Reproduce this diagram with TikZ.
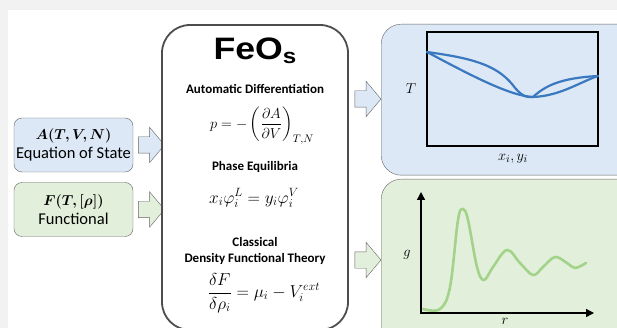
\documentclass[tikz,border=0pt]{standalone}
\usepackage{fontspec}
\usepackage{amsmath,bm}
\setmainfont{Carlito}
\newfontfamily\logofont{Liberation Sans}
\usetikzlibrary{arrows.meta, positioning, shapes.arrows}
\definecolor{bgframe}{HTML}{F2F2F2}
\definecolor{bluefill}{HTML}{DCE8F6}
\definecolor{greenfill}{HTML}{E2EFDA}
\definecolor{boxstroke}{HTML}{666666}
\definecolor{mainstroke}{HTML}{4D4D4D}
\definecolor{curveblue}{HTML}{3A78C0}
\definecolor{curvegreen}{HTML}{A3D38A}
\tikzset{
    inbox/.style={rectangle, rounded corners=8pt, draw=boxstroke, minimum width=119pt,
    minimum height=54pt, align=center, font=\fontsize{16.5}{19}\selectfont, inner sep=0pt},
    blockarr/.style={single arrow, draw=boxstroke, minimum height=26pt, minimum width=35pt,
    single arrow head extend=9.5pt, single arrow tip angle=100, inner xsep=0pt, inner ysep=8pt},
    hdr/.style={font=\fontsize{13}{16}\selectfont\bfseries, align=center, inner sep=1pt},
    eqn/.style={font=\fontsize{16.5}{18}\selectfont, inner sep=0.5pt},
    plotbox/.style={rectangle, rounded corners=20pt, draw=boxstroke, minimum width=260pt},
    axisline/.style={line width=1.4pt, -{Triangle[length=8pt,width=8pt]}},
}

\begin{document}
\begin{tikzpicture}[x=1pt, y=-1pt]

% frame
        \fill[bgframe] (0,0) rectangle (617,328);
        \fill[white] (8,10) rectangle (617,328);
        \useasboundingbox (0,0) rectangle (617,328);
        \clip (0,0) rectangle (617,328);

% =========================================================
% LEFT — inputs
% =========================================================

        \node[inbox, fill=bluefill]  (eos) at (73.5,145)
            {{\fontsize{14.5}{17}\selectfont$\bm{A(T,V,N)}$}\\Equation of State};
        \node[inbox, fill=greenfill] (fun) at (73.5,209.5)
            {{\fontsize{14.5}{17}\selectfont$\bm{F(T,[\rho])}$}\\Functional};

        \node[blockarr, fill=bluefill]  (a1) at (148,145) {};
        \node[blockarr, fill=greenfill] (a2) at (148,209.5) {};

% =========================================================
% CENTER — FeOs
% =========================================================

        \node[draw=mainstroke, line width=1.8pt, rounded corners=28pt, fill=white,
            minimum width=186pt, minimum height=305pt] (feos) at (255,177.5) {};

        \node[font=\logofont\fontsize{31}{31}\selectfont\bfseries, inner sep=0pt] (logo) at (255,51)
            {\scalebox{1.15}[1]{FeO\raisebox{-4pt}{\fontsize{21}{21}\selectfont s}}};

        \node[hdr] (ad)  at (255,89)  {Automatic Differentiation};
        \node[eqn, font=\fontsize{15.5}{18}\selectfont] (eq1) at (262,126)
            {$\displaystyle p=-\left(\frac{\partial A}{\partial V}\right)_{T,N}$};
        \node[hdr] (pe)  at (255,167) {Phase Equilibria};
        \node[eqn] (eq2) at (254,198) {$x_i\varphi_i^L=y_i\varphi_i^V$};
        \node[hdr] (dft) at (255,251) {Classical\\Density Functional Theory};
        \node[eqn] (eq3) at (264,293) {$\displaystyle \frac{\delta F}{\delta\rho_i}=\mu_i-V_i^{ext}$};

% =========================================================
% RIGHT — results
% =========================================================

        \node[plotbox, fill=bluefill,  minimum height=151pt, anchor=north west] (pdbox) at (381,24) {};
        \node[plotbox, fill=greenfill, minimum height=170pt, anchor=north west] (rdbox) at (381,179) {};

        \node[blockarr, fill=bluefill]  (a3) at (364.5,99) {};
        \node[blockarr, fill=greenfill] (a4) at (364.5,260) {};

% phase diagram
        \draw[line width=1.5pt] (427,32) rectangle (598,146);
        \draw[curveblue, line width=2.2pt, line cap=round]
            (427,52) .. controls (470,58) and (495,64) .. (512,84)
            .. controls (520,95) and (526,98) .. (533,97);
        \draw[curveblue, line width=2.2pt, line cap=round]
            (427,52) .. controls (470,75) and (510,96) .. (533,97);
        \draw[curveblue, line width=2.2pt, line cap=round]
            (533,97) .. controls (545,86) and (560,78) .. (598,76);
        \draw[curveblue, line width=2.2pt, line cap=round]
            (533,97) .. controls (560,96) and (580,82) .. (598,76);
        \node[eqn, font=\fontsize{15}{18}\selectfont] (tlab)  at (411,89)  {$T$};
        \node[eqn, font=\fontsize{15.5}{18}\selectfont] (xylab) at (513,159) {$x_i,y_i$};

% radial distribution function
        \draw[axisline] (421,313) -- (421,192);
        \draw[axisline] (420,313) -- (594,313);
        \draw[curvegreen, line width=2.6pt, line cap=round] plot[smooth, tension=0.6] coordinates {
            (423,309) (440,309) (450,287) (458,220) (463,209) (468,220) (477,267)
            (484,280) (493,267) (507,250) (520,263) (533,275) (543,267) (555,257)
            (567,263) (575,268) (586,263)};
        \node[eqn, font=\fontsize{15}{18}\selectfont] (glab) at (407,255) {$g$};
        \node[eqn, font=\fontsize{15}{18}\selectfont] (rlab) at (505,321) {$r$};

\end{tikzpicture}
\end{document}
